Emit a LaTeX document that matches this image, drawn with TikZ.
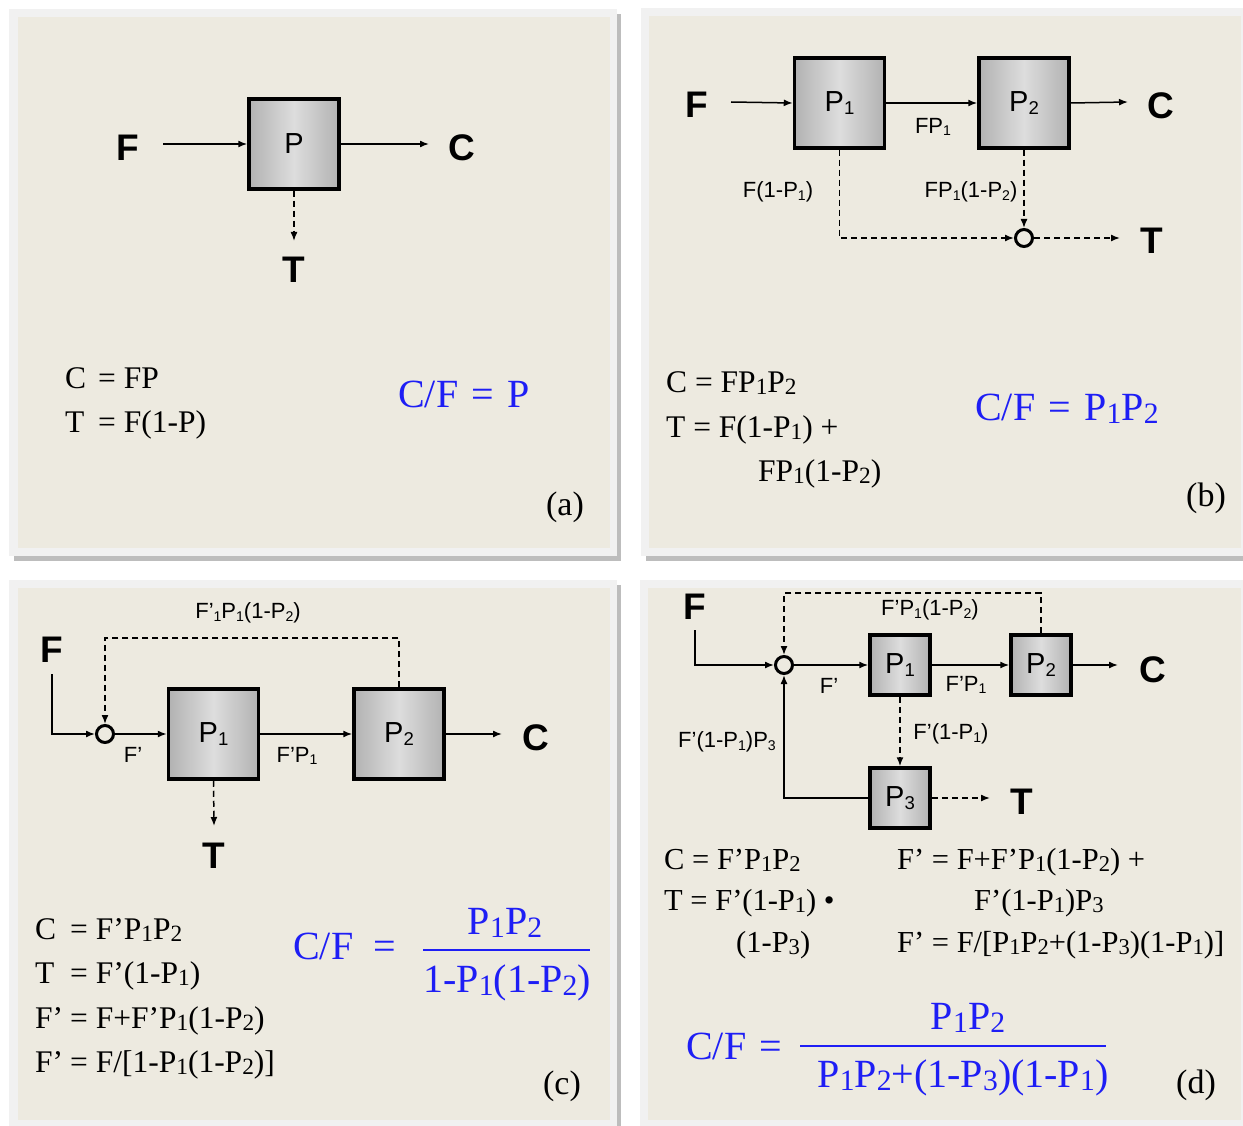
\documentclass[tikz,border=0pt]{standalone}
\usepackage{fontspec}
\setmainfont{Liberation Serif}
\newfontfamily\arial{Liberation Sans}
\usetikzlibrary{arrows.meta}
\definecolor{beige}{HTML}{EDEAE0}
\definecolor{framec}{HTML}{F1F1F1}
\definecolor{shadowc}{HTML}{BDBDBD}
\definecolor{eqblue}{HTML}{1E1EF5}
\definecolor{boxedge}{HTML}{B2B2B2}
\definecolor{boxmid}{HTML}{DDDDDD}
\newcommand\ssub[1]{\raisebox{-0.22ex}{\scalebox{0.64}{#1}}}
\newcommand\esub[1]{\raisebox{-0.2ex}{\scalebox{0.74}{#1}}}
\newcommand\lhs[2][31pt]{\makebox[#1][l]{#2}}
\tikzset{
  proc/.style={draw=black, line width=3.5pt, minimum width=90pt, minimum height=90pt, inner sep=0pt,
    left color=boxedge, right color=boxedge, middle color=boxmid, font=\arial\fontsize{29}{29}\selectfont},
  procs/.style={proc, minimum width=60pt, minimum height=60pt},
  big/.style={font=\arial\bfseries\fontsize{37}{37}\selectfont, inner sep=0pt},
  lbl/.style={font=\arial\fontsize{22}{22}\selectfont, inner sep=0pt},
  eq/.style={font=\fontsize{31.5}{31.5}\selectfont, anchor=base west, inner sep=0pt},
  eqd/.style={font=\fontsize{30.5}{30.5}\selectfont, anchor=base west, inner sep=0pt},
  blue/.style={text=eqblue, font=\fontsize{40}{40}\selectfont, inner sep=0pt},
  tag/.style={font=\fontsize{34}{34}\selectfont, inner sep=0pt},
  flow/.style={line width=1.5pt, -{Latex[length=9pt,width=7pt]}},
  dflow/.style={flow, dash pattern=on 6pt off 4pt},
  junc/.style={circle, draw=black, line width=3pt, minimum size=17pt, inner sep=0pt},
  fracline/.style={draw=eqblue, line width=1.8pt}
}
\begin{document}
\begin{tikzpicture}[x=1pt,y=-1pt]
\useasboundingbox (0,0) rectangle (1243,1126);
\fill[white] (0,0) rectangle (1243,1126);
% ---------- panels
\fill[shadowc] (14,14) rectangle (621,561);
\fill[framec] (9,9) rectangle (617,556);
\fill[beige] (18,17) rectangle (610,548);
\fill[shadowc] (646,13) rectangle (1250,561);
\fill[framec] (641,8) rectangle (1250,556);
\fill[beige] (649,16) rectangle (1241,548);
\fill[shadowc] (14,585) rectangle (621,1130);
\fill[framec] (9,580) rectangle (617,1130);
\fill[beige] (18,588) rectangle (610,1120);
\fill[framec] (640,580) rectangle (1250,1130);
\fill[beige] (648,588) rectangle (1241,1120);

% ---------- panel (a)
\node[proc] (Pa) at (294,144) {P};
\node[big] (Fa) at (128,148) {F};
\node[big] (Ca) at (462,148) {C};
\node[big] (Ta) at (294,270) {T};
\coordinate (a-in) at (163,144);
\coordinate (a-out) at (429,144);
\coordinate (a-t) at (294,241);
\draw[flow] (a-in) -- (Pa.west);
\draw[flow] (Pa.east) -- (a-out);
\draw[dflow] (Pa.south) -- (a-t);
\node[eq] (a-e1) at (65,388) {\lhs[33pt]{C}= FP};
\node[eq] (a-e2) at (65,432) {\lhs[33pt]{T}= F(1-P)};
\node[blue, anchor=base west] (a-cf) at (398,407) {C/F\,\,=\,\,P};
\node[tag] (a-tag) at (565,507) {(a)};

% ---------- panel (b)
\node[proc] (P1b) at (839.5,103) {P\ssub{1}};
\node[proc] (P2b) at (1024,103) {P\ssub{2}};
\node[big] (Fb) at (697,105) {F};
\node[big] (Cb) at (1161,106) {C};
\node[big] (Tb) at (1152,241) {T};
\node[junc] (Jb) at (1024,238) {};
\coordinate (b-in) at (731,102);
\coordinate (b-out) at (1128,102);
\coordinate (b-t) at (1120,238);
\draw[flow] (b-in) -- (P1b.west);
\draw[flow] (P1b.east) -- (P2b.west);
\draw[flow] (P2b.east) -- (b-out);
\draw[dflow] (P1b.south) |- (Jb);
\draw[dflow] (P2b.south) -- (Jb);
\draw[dflow] (Jb) -- (b-t);
\node[lbl] (b-l1) at (933,127) {FP\ssub{1}};
\node[lbl] (b-l2) at (778,192) {F(1-P\ssub{1})};
\node[lbl] (b-l3) at (971,192) {FP\ssub{1}(1-P\ssub{2})};
\node[eq] (b-e1) at (666,392) {C = FP\esub{1}P\esub{2}};
\node[eq] (b-e2) at (666,437) {T = F(1-P\esub{1}) +};
\node[eq] (b-e3) at (758,481) {FP\esub{1}(1-P\esub{2})};
\node[blue, anchor=base west] (b-cf) at (975,420) {C/F\,\,=\,\,P\esub{1}P\esub{2}};
\node[tag] (b-tag) at (1206,498) {(b)};

% ---------- panel (c)
\node[proc] (P1c) at (213.5,734) {P\ssub{1}};
\node[proc] (P2c) at (399,734) {P\ssub{2}};
\node[big] (Fc) at (52,650) {F};
\node[big] (Cc) at (536,738) {C};
\node[big] (Tc) at (214,856) {T};
\node[junc] (Jc) at (105,734) {};
\coordinate (c-f) at (52,674);
\coordinate (c-top) at (105,638);
\coordinate (c-out) at (502,734);
\coordinate (c-t) at (214,826);
\draw[flow] (c-f) |- (Jc);
\draw[flow] (Jc) -- (P1c.west);
\draw[flow] (P1c.east) -- (P2c.west);
\draw[flow] (P2c.east) -- (c-out);
\draw[dflow] (P2c.north) |- (c-top) -- (Jc);
\draw[dflow] (P1c.south) -- (c-t);
\node[lbl] (c-l1) at (248,613) {F’\ssub{1}P\ssub{1}(1-P\ssub{2})};
\node[lbl] (c-l2) at (133,755) {F’};
\node[lbl] (c-l3) at (297,756) {F’P\ssub{1}};
\node[eq] (c-e1) at (35,939) {\lhs[35pt]{C}= F’P\esub{1}P\esub{2}};
\node[eq] (c-e2) at (35,983) {\lhs[35pt]{T}= F’(1-P\esub{1})};
\node[eq] (c-e3) at (35,1028) {\lhs[35pt]{F’}= F+F’P\esub{1}(1-P\esub{2})};
\node[eq] (c-e4) at (35,1072) {\lhs[35pt]{F’}= F/[1-P\esub{1}(1-P\esub{2})]};
\node[blue, anchor=base west] (c-cf) at (293,959) {C/F\,\,\,=};
\node[blue, anchor=base] (c-num) at (505,934) {P\esub{1}P\esub{2}};
\node[blue, anchor=base] (c-den) at (507,992) {1-P\esub{1}(1-P\esub{2})};
\coordinate (c-fl) at (423,950);
\coordinate (c-fr) at (590,950);
\draw[fracline] (c-fl) -- (c-fr);
\node[tag] (c-tag) at (562,1086) {(c)};

% ---------- panel (d)
\node[procs] (P1d) at (900,665) {P\ssub{1}};
\node[procs] (P2d) at (1041,665) {P\ssub{2}};
\node[procs] (P3d) at (900,798) {P\ssub{3}};
\node[big] (Fd) at (695,607) {F};
\node[big] (Cd) at (1153,670) {C};
\node[big] (Td) at (1022,802) {T};
\node[junc] (Jd) at (784,665) {};
\coordinate (d-f) at (695,630);
\coordinate (d-top) at (784,593);
\coordinate (d-out) at (1118,665);
\coordinate (d-t) at (990,798);
\draw[flow] (d-f) |- (Jd);
\draw[flow] (Jd) -- (P1d.west);
\draw[flow] (P1d.east) -- (P2d.west);
\draw[flow] (P2d.east) -- (d-out);
\draw[dflow] (P2d.north) |- (d-top) -- (Jd);
\draw[dflow] (P1d.south) -- (P3d.north);
\draw[flow] (P3d.west) -| (Jd.south);
\draw[dflow] (P3d.east) -- (d-t);
\node[lbl] (d-l1) at (930,610) {F’P\ssub{1}(1-P\ssub{2})};
\node[lbl] (d-l2) at (829,686) {F’};
\node[lbl] (d-l3) at (966,685) {F’P\ssub{1}};
\node[lbl] (d-l4) at (951,734) {F’(1-P\ssub{1})};
\node[lbl] (d-l5) at (727,742) {F’(1-P\ssub{1})P\ssub{3}};
\node[eqd] (d-e1) at (664,869) {C = F’P\esub{1}P\esub{2}};
\node[eqd] (d-e2) at (664,910) {T = F’(1-P\esub{1}) \textbullet};
\node[eqd] (d-e3) at (736,952) {(1-P\esub{3})};
\node[eqd] (d-e4) at (897,869) {F’ = F+F’P\esub{1}(1-P\esub{2}) +};
\node[eqd] (d-e5) at (974,910) {F’(1-P\esub{1})P\esub{3}};
\node[eqd] (d-e6) at (897,952) {F’ = F/[P\esub{1}P\esub{2}+(1-P\esub{3})(1-P\esub{1})]};
\node[blue, anchor=base west] (d-cf) at (686,1059) {C/F\,\,=};
\node[blue, anchor=base] (d-num) at (968,1029) {P\esub{1}P\esub{2}};
\node[blue, anchor=base] (d-den) at (963,1087) {P\esub{1}P\esub{2}+(1-P\esub{3})(1-P\esub{1})};
\coordinate (d-fl) at (800,1046);
\coordinate (d-fr) at (1106,1046);
\draw[fracline] (d-fl) -- (d-fr);
\node[tag] (d-tag) at (1196,1085) {(d)};
\end{tikzpicture}
\end{document}
